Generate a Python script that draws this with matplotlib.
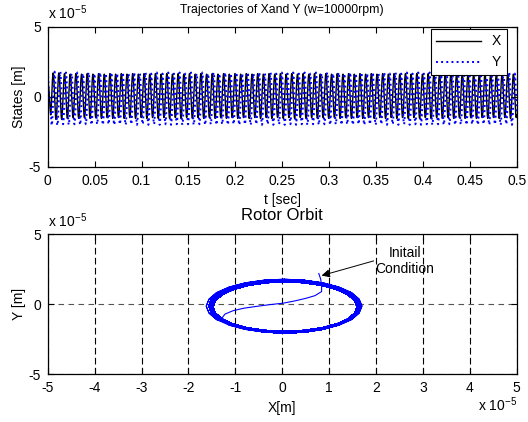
import numpy as np
import matplotlib
matplotlib.use('Agg')
import matplotlib.pyplot as plt

plt.rcParams['font.family'] = ['Liberation Sans', 'DejaVu Sans']
plt.rcParams['font.size'] = 10
plt.rcParams['axes.unicode_minus'] = False
plt.rcParams['xtick.direction'] = 'in'
plt.rcParams['ytick.direction'] = 'in'

# displacement values in units of 1e-5 m
# first half turn after the initial condition
start_x = [0.78, 0.82, 0.84, 0.84, 0.70, 0.52, 0.28, 0.02, -0.28, -0.55, -0.82, -1.05, -1.22, -1.30]
start_y = [2.20, 1.80, 1.35, 0.91, 0.62, 0.44, 0.25, 0.08, -0.03, -0.15, -0.28, -0.46, -0.70, -1.05]
# first full turns (slightly larger)
early_x = [-1.13, -0.79, -0.39, 0.04, 0.47, 0.87, 1.21, 1.48, 1.64, 1.70, 1.64, 1.48,
           1.21, 0.87, 0.47, 0.04, -0.39, -0.79, -1.13, -1.40, -1.56, -1.62, -1.56, -1.40]
early_y = [-1.49, -1.79, -1.98, -2.05, -1.98, -1.79, -1.49, -1.09, -0.63, -0.13, 0.37, 0.83,
           1.23, 1.53, 1.72, 1.79, 1.72, 1.53, 1.23, 0.83, 0.37, -0.13, -0.63, -1.09]
# steady orbit, two alternating turns
cycle_a_x = [-1.08, -0.75, -0.36, 0.05, 0.46, 0.85, 1.18, 1.44, 1.60, 1.65, 1.60, 1.44,
             1.18, 0.85, 0.46, 0.05, -0.36, -0.75, -1.08, -1.34, -1.50, -1.55, -1.50, -1.34]
cycle_a_y = [-1.43, -1.72, -1.91, -1.97, -1.91, -1.72, -1.43, -1.05, -0.60, -0.12, 0.36, 0.81,
             1.19, 1.48, 1.67, 1.73, 1.67, 1.48, 1.19, 0.81, 0.36, -0.12, -0.60, -1.05]
cycle_b_x = [-1.04, -0.72, -0.34, 0.06, 0.46, 0.84, 1.16, 1.40, 1.56, 1.61, 1.56, 1.40,
             1.16, 0.84, 0.46, 0.06, -0.34, -0.72, -1.04, -1.28, -1.44, -1.49, -1.44, -1.28]
cycle_b_y = [-1.47, -1.76, -1.95, -2.01, -1.95, -1.76, -1.47, -1.10, -0.65, -0.18, 0.29, 0.74,
             1.11, 1.40, 1.59, 1.65, 1.59, 1.40, 1.11, 0.74, 0.29, -0.18, -0.65, -1.10]
n_early = 2
n_pairs = 40
t_end = 0.5

x_vals = np.concatenate([start_x, np.tile(early_x, n_early), np.tile(cycle_a_x + cycle_b_x, n_pairs)]) * 1e-5
y_vals = np.concatenate([start_y, np.tile(early_y, n_early), np.tile(cycle_a_y + cycle_b_y, n_pairs)]) * 1e-5
t = np.linspace(0, t_end, len(x_vals))
n_thin = len(start_x) + n_early * len(early_x)

fig = plt.figure(figsize=(5.28, 4.22), dpi=100)
ax1 = fig.add_axes([47.7/528, 1-166.7/422, 469/528, 140/422])
ax2 = fig.add_axes([47.7/528, 1-374.3/422, 469/528, 140/422])

# top: time histories
ax1.plot(t, x_vals*1e5, color='black', lw=1.0, label='X')
ax1.plot(t, y_vals*1e5, color='blue', lw=1.4, ls=':', label='Y')
ax1.set_xlim(0, 0.5)
ax1.set_ylim(-5, 5)
ax1.set_xticks(np.arange(0, 0.51, 0.05))
ax1.set_xticklabels(['0', '0.05', '0.1', '0.15', '0.2', '0.25', '0.3', '0.35', '0.4', '0.45', '0.5'])
ax1.set_yticks([-5, 0, 5])
ax1.set_xlabel('t [sec]', labelpad=4)
ax1.set_ylabel('States [m]', labelpad=2)
ax1.set_title('Trajectories of Xand Y (w=10000rpm)', pad=10, fontsize=8.8)
ax1.text(0, 1.03, r'x 10$^{\mathregular{-5}}$', transform=ax1.transAxes, ha='left', va='bottom')
leg = ax1.legend(loc='upper right', bbox_to_anchor=(0.979, 0.984), borderaxespad=0,
                 fancybox=False, framealpha=1, edgecolor='black', handlelength=3.2)
leg.get_frame().set_linewidth(0.8)

# bottom: orbit
ax2.plot(x_vals[:n_thin+1]*1e5, y_vals[:n_thin+1]*1e5, color='blue', lw=0.8)
ax2.plot(x_vals[n_thin:]*1e5, y_vals[n_thin:]*1e5, color='blue', lw=1.6)
ax2.set_xlim(-5, 5)
ax2.set_ylim(-5, 5)
ax2.set_xticks(np.arange(-5, 6, 1))
ax2.set_yticks([-5, 0, 5])
ax2.grid(True, axis='x', color='black', lw=0.8, dashes=(6, 3))
ax2.grid(True, axis='y', color='#555555', lw=0.8, dashes=(5, 4))
ax2.set_xlabel('X[m]', labelpad=4)
ax2.set_ylabel('Y [m]', labelpad=2)
ax2.set_title('Rotor Orbit', pad=10)
ax2.text(0, 1.03, r'x 10$^{\mathregular{-5}}$', transform=ax2.transAxes, ha='left', va='bottom')
ax2.text(1.0, -0.28, r'x 10$^{\mathregular{-5}}$', transform=ax2.transAxes, ha='right', va='bottom')
ax2.annotate('', xy=(0.84, 2.05), xytext=(1.95, 3.1),
             arrowprops=dict(arrowstyle='-|>', color='black', lw=0.7, mutation_scale=12, shrinkA=0, shrinkB=0))
ax2.text(2.61, 3.12, 'Initail\nCondition', ha='center', va='center', linespacing=1.2)

for ax in (ax1, ax2):
    ax.tick_params(top=True, right=True, length=4, width=0.8, pad=5)
    for s in ax.spines.values():
        s.set_linewidth(0.9)

fig.savefig('out.png', dpi=100)
